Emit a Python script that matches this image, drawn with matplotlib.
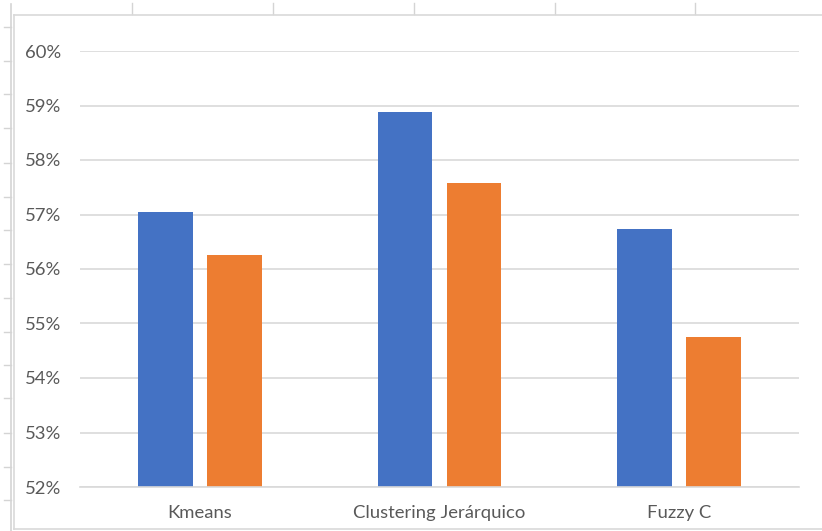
import matplotlib
matplotlib.use("Agg")
import matplotlib.pyplot as plt
from matplotlib.lines import Line2D
import numpy as np

# Clustering accuracy by method, two series
categories = ["Kmeans", "Clustering Jerárquico", "Fuzzy C"]
series_a = [0.5705, 0.5888, 0.5673]
series_b = [0.5626, 0.5758, 0.5475]
y_ticks = [0.52, 0.53, 0.54, 0.55, 0.56, 0.57, 0.58, 0.59, 0.60]

W, H = 822, 531
fig = plt.figure(figsize=(W / 100, H / 100), dpi=100)
fig.patch.set_facecolor("white")

plt.rcParams["font.family"] = ["Lato", "DejaVu Sans"]

def fx(px):
    return px / W

def fy(py):
    return 1 - py / H

grid_col = "#d9d9d9"
sheet_col = "#d4d4d4"

# worksheet column/row separators around the chart object
fig.add_artist(Line2D([fx(10.5), fx(10.5)], [fy(4), fy(531)], color=sheet_col, lw=1.2))
for x in [131.5, 272.5, 413.5, 554.5, 694.5]:
    fig.add_artist(Line2D([fx(x), fx(x)], [fy(3), fy(14)], color=sheet_col, lw=1.0))
for y in [27, 61, 94, 128, 163, 197, 230, 264, 298, 332, 365, 398, 433, 467, 500]:
    fig.add_artist(Line2D([fx(4), fx(11)], [fy(y), fy(y)], color=sheet_col, lw=1.0))

# chart frame
fig.add_artist(Line2D([fx(13.5), fx(822)], [fy(14.5), fy(14.5)], color=grid_col, lw=1.2))
fig.add_artist(Line2D([fx(13.5), fx(13.5)], [fy(14.5), fy(528.5)], color=grid_col, lw=1.2))
fig.add_artist(Line2D([fx(13.5), fx(822)], [fy(528.5), fy(528.5)], color=grid_col, lw=1.2))

left, right, top, bottom = 80, 799, 51, 487
ax = fig.add_axes([fx(left), fy(bottom), fx(right - left), (bottom - top) / H])
ax.set_facecolor("none")

x = np.arange(len(categories))
w = 0.228
off = 0.144
ax.bar(x - off, series_a, width=w, color="#4472C4", zorder=3)
ax.bar(x + off, series_b, width=w, color="#ED7D31", zorder=3)

ax.set_xlim(-0.5, len(categories) - 0.5)
ax.set_ylim(0.52, 0.60)
ax.set_yticks(y_ticks)
ax.set_yticklabels([f"{int(round(v * 100))}%" for v in y_ticks])
ax.set_xticks(x)
ax.set_xticklabels(categories)

ax.yaxis.grid(True, color=grid_col, lw=1.2, zorder=0)
ax.set_axisbelow(True)
for s in ["top", "right", "left"]:
    ax.spines[s].set_visible(False)
ax.spines["bottom"].set_color(grid_col)
ax.spines["bottom"].set_linewidth(1.2)
ax.spines["bottom"].set_zorder(4)

ax.tick_params(axis="y", length=0, pad=13.5, labelsize=13.3, labelcolor="#595959")
ax.tick_params(axis="x", length=0, pad=13, labelsize=13.3, labelcolor="#595959")

fig.savefig("out.png", dpi=100, facecolor="white")
